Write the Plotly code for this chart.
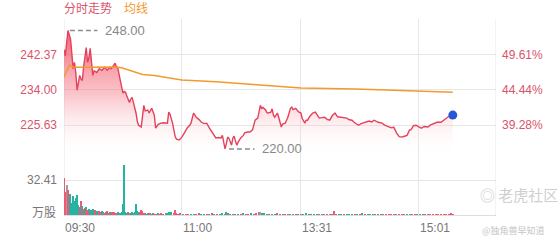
import plotly.graph_objects as go

# ---- data (minute index from 09:30; HK session 330 minutes) ----
tick_idx = [0, 90, 181, 271]
tick_text = ["09:30", "11:00", "13:31", "15:01"]
session_len = 330

prev_close = 162.0
price_ticks = [225.63, 234.00, 242.37]
price_range = [217.26, 250.74]
vol_tick = 32.41

price_idx = [0, 1, 3, 4, 5, 6, 7, 8, 9, 10, 11, 12, 13, 14, 15, 16, 17, 18, 19, 20,
             21, 22, 23, 25, 27, 29, 31, 33, 35, 36, 38, 39, 40, 41, 43, 44, 45, 46, 47, 48,
             50, 51, 52, 53, 55, 56, 57, 59, 60, 61, 62, 64, 65, 67, 68, 69, 70, 72, 74, 76,
             79, 80, 81, 82, 83, 85, 86, 88, 90, 92, 94, 96, 97, 99, 100, 101, 103, 105, 107, 109,
             111, 113, 116, 118, 120, 121, 122, 123, 124, 125, 126, 127, 128, 129, 130, 131, 132, 133, 135, 137,
             138, 140, 142, 144, 146, 148, 149, 150, 151, 152, 154, 155, 156, 158, 159, 160, 161, 163, 164, 166,
             167, 169, 170, 171, 173, 174, 175, 177, 179, 181, 182, 184, 185, 186, 188, 190, 192, 194, 195, 197,
             199, 201, 203, 205, 207, 209, 211, 213, 216, 218, 220, 222, 225, 227, 230, 233, 235, 237, 240, 243,
             245, 248, 250, 252, 253, 254, 256, 258, 260, 262, 264, 265, 267, 269, 271, 273, 275, 278, 280, 283,
             285, 288, 290, 293, 295, 297]
price_val = [243.5, 242.0, 248.0, 247.2, 246.0, 242.5, 239.0, 240.5, 238.0, 233.9, 236.0, 237.4, 236.5, 236.2, 239.5, 242.5, 244.0, 240.5, 241.5, 243.8,
             240.0, 237.4, 238.5, 238.1, 239.0, 238.6, 239.3, 238.6, 239.3, 239.0, 239.8, 240.3, 239.5, 239.3, 236.2, 234.5, 233.2, 233.6, 233.4, 232.5,
             231.0, 231.8, 232.2, 231.0, 228.5, 226.5, 225.6, 225.2, 227.5, 230.3, 229.0, 229.2, 228.5, 229.6, 228.8, 228.0, 224.9, 225.8, 226.1, 226.2,
             226.1, 228.7, 228.2, 227.3, 226.0, 222.8, 222.3, 222.1, 222.8, 223.8, 224.9, 225.6, 226.1, 228.5, 228.0, 227.5, 227.0, 226.3, 226.0, 226.1,
             225.0, 224.0, 222.6, 222.7, 222.6, 223.2, 221.5, 220.0, 221.2, 222.8, 222.5, 221.8, 220.9, 222.6, 223.0, 221.8, 220.9, 221.6, 222.6, 223.2,
             223.8, 224.0, 224.0, 224.5, 226.8, 227.3, 228.7, 230.3, 229.6, 229.8, 229.2, 228.6, 228.5, 228.7, 229.5, 228.0, 227.5, 228.5, 227.5, 225.2,
             225.9, 226.1, 226.8, 227.5, 229.6, 229.9, 229.3, 229.6, 228.8, 228.5, 227.2, 226.1, 226.8, 226.8, 227.8, 228.5, 228.7, 227.8, 227.3, 227.4,
             227.5, 227.0, 226.8, 227.9, 228.5, 227.6, 227.5, 227.3, 227.3, 226.9, 226.8, 226.2, 225.6, 226.0, 226.3, 226.6, 226.4, 226.8, 226.3, 226.1,
             225.6, 225.2, 225.0, 225.1, 224.2, 223.8, 222.9, 222.8, 223.0, 223.2, 224.5, 224.5, 225.5, 225.6, 225.2, 224.9, 225.3, 225.2, 225.7, 226.1,
             226.3, 226.3, 226.8, 227.5, 227.8, 228.0]

avg_idx = [0, 2, 4, 6, 8, 15, 30, 40, 44, 50, 55, 60, 69, 85, 90, 116, 148, 181, 223, 269, 297]
avg_val = [237.0, 238.5, 239.8, 239.6, 239.3, 239.3, 239.3, 239.4, 239.2, 238.6, 238.0, 237.6, 237.4, 236.6, 236.3, 235.9, 235.1, 234.4, 234.2, 233.6, 233.4]

vol_idx = [0, 1, 2, 3, 4, 5, 6, 7, 8, 9, 10, 11, 12, 13, 14, 15, 16, 17, 18, 19,
           20, 21, 22, 23, 24, 25, 26, 27, 28, 29, 30, 31, 32, 33, 34, 35, 36, 37, 38, 39,
           40, 41, 42, 43, 44, 45, 46, 47, 48, 49, 50, 51, 52, 53, 54, 55, 56, 57, 58, 59,
           60, 61, 62, 63, 64, 65, 66, 67, 68, 69, 70, 72, 73, 74, 76, 78, 79, 80, 81, 82,
           84, 85, 86, 87, 89, 91, 93, 95, 97, 99, 101, 103, 105, 107, 109, 111, 113, 115, 117, 119,
           121, 123, 124, 125, 127, 129, 131, 133, 135, 137, 139, 141, 143, 145, 147, 149, 150, 151, 153, 155,
           157, 159, 161, 163, 165, 167, 169, 171, 173, 175, 177, 179, 181, 183, 185, 187, 189, 191, 193, 195,
           197, 199, 201, 203, 205, 206, 208, 210, 212, 214, 216, 218, 220, 222, 224, 226, 228, 230, 232, 234,
           236, 238, 240, 242, 244, 246, 248, 250, 252, 254, 256, 258, 260, 262, 264, 266, 268, 270, 272, 274,
           276, 278, 280, 282, 284, 286, 288, 290, 292, 294, 296, 297]
vol_val = [35, 22, 28, 24, 14, 20, 12, 18, 13, 16, 19, 10, 8, 13, 9, 6, 7, 8, 5, 6,
           4, 5, 6, 4, 5, 4, 3, 4, 3, 4, 3, 2, 3, 4, 2, 3, 2, 3, 3, 2,
           2, 3, 2, 2, 3, 11, 47, 3, 2, 3, 2, 2, 3, 2, 3, 11, 4, 3, 3, 5.5,
           4, 2, 2, 1.5, 2, 1.5, 2, 1.5, 2, 1.5, 1.5, 2, 1.5, 2, 1.5, 2, 2, 3, 2, 3.5,
           2, 5.5, 2, 1.5, 2, 1.5, 1.5, 1, 1.5, 1.5, 1, 2, 1.5, 1, 1.5, 1, 2, 1.5, 1, 1.5,
           2, 1.5, 3.5, 2, 1.5, 1.5, 1, 1.5, 1, 2, 1.5, 1, 2, 1.5, 2, 3, 3.5, 2, 2, 1.5,
           1, 1.5, 1, 2, 1.5, 1, 1.5, 1.5, 1, 1, 1.5, 1, 1.5, 1, 2, 1.5, 1, 1.5, 1, 1,
           1.5, 1, 1.5, 1, 1.5, 4.5, 1.5, 1, 1.5, 1, 1.5, 1, 1.5, 1, 1.5, 1, 2, 1, 1.5, 1,
           1.5, 1, 1.5, 1, 1, 1.5, 1, 1.5, 1, 1.5, 1, 1, 1.5, 1, 1.5, 1, 1, 1.5, 1, 1,
           1.5, 1, 1, 1.5, 1, 1.5, 1, 1.5, 1, 1.5, 2, 1.5]
vol_dir = ["r", "r", "n", "r", "r", "g", "g", "g", "g", "g", "g", "g", "r", "r", "g", "r", "r", "g", "r", "g",
           "r", "g", "g", "g", "r", "g", "g", "r", "r", "g", "g", "r", "r", "r", "g", "r", "g", "r", "r", "r",
           "r", "g", "g", "g", "g", "g", "g", "g", "r", "g", "r", "g", "g", "g", "g", "g", "g", "r", "g", "r",
           "r", "r", "r", "g", "g", "r", "r", "g", "g", "r", "r", "g", "r", "r", "g", "r", "g", "g", "g", "g",
           "r", "r", "r", "r", "r", "g", "r", "r", "g", "g", "r", "r", "g", "g", "r", "g", "r", "g", "r", "g",
           "g", "g", "g", "r", "g", "g", "r", "g", "r", "g", "r", "r", "g", "r", "r", "r", "n", "g", "g", "r",
           "g", "g", "g", "r", "r", "g", "r", "r", "g", "r", "r", "g", "r", "g", "g", "g", "r", "g", "g", "r",
           "g", "r", "r", "g", "r", "r", "r", "g", "g", "r", "g", "g", "g", "r", "g", "r", "g", "r", "g", "g",
           "g", "r", "g", "r", "g", "r", "r", "r", "r", "g", "r", "r", "r", "g", "g", "r", "r", "g", "r", "g",
           "r", "r", "r", "r", "r", "r", "r", "r", "r", "r", "r", "r"]

# ---- styles ----
RED = "#e5415c"
ORANGE = "#f39a2f"
GRID = "#e6e6e6"
LABEL_RED = "#d9546b"
GRAY_TXT = "#777777"
FONT = "Liberation Sans, Arial, Noto Sans CJK SC, sans-serif"
dir_color = {"r": "#ea5b72", "g": "#27b3a3", "n": "#9e9e9e"}

fig = go.Figure()

# price area + line
fig.add_trace(go.Scatter(
    x=price_idx, y=price_val, mode="lines",
    line=dict(color=RED, width=1.4),
    fill="tozeroy",
    fillgradient=dict(type="vertical", start=price_range[0] + 1.0, stop=max(price_val),
                      colorscale=[[0, "rgba(255,255,255,0)"], [0.5, "rgba(245,135,148,0.5)"],
                                  [1, "rgba(240,70,90,0.85)"]]),
    xaxis="x", yaxis="y", hoverinfo="skip", showlegend=False))

# average line
fig.add_trace(go.Scatter(
    x=avg_idx, y=avg_val, mode="lines", line=dict(color=ORANGE, width=1.5),
    xaxis="x", yaxis="y", hoverinfo="skip", showlegend=False))

# last point marker
fig.add_trace(go.Scatter(
    x=[price_idx[-1]], y=[price_val[-1]], mode="markers",
    marker=dict(color="#2657d6", size=9), xaxis="x", yaxis="y",
    hoverinfo="skip", showlegend=False, cliponaxis=False))

# volume bars
fig.add_trace(go.Bar(
    x=vol_idx, y=vol_val, marker=dict(color=[dir_color[d] for d in vol_dir], line=dict(width=0)),
    width=0.9, xaxis="x2", yaxis="y3", hoverinfo="skip", showlegend=False))

# right percent axis dummy trace
fig.add_trace(go.Scatter(x=[None], y=[None], xaxis="x", yaxis="y2", showlegend=False))

pct_text = ["%.2f%%" % ((v / prev_close - 1) * 100) for v in price_ticks]
price_text = ["%.2f" % v for v in price_ticks]

vol_top = vol_tick * 54.5 / 35.0

xaxis_common = dict(range=[0, session_len], tickvals=tick_idx + [session_len], showticklabels=False,
                    showgrid=True, gridcolor=GRID, gridwidth=1, zeroline=False, ticks="",
                    fixedrange=True)

fig.update_layout(
    width=560, height=240,
    margin=dict(l=64, r=64, t=19, b=25),
    paper_bgcolor="white", plot_bgcolor="white",
    font=dict(family=FONT, size=12, color=GRAY_TXT),
    bargap=0,
    xaxis=dict(domain=[0, 1], anchor="y", **xaxis_common),
    xaxis2=dict(domain=[0, 1], anchor="y3", matches="x", **xaxis_common,
                showline=True, linecolor="#dddddd", linewidth=1),
    yaxis=dict(domain=[0.278, 1], range=price_range, tickvals=price_ticks, ticktext=price_text,
               tickfont=dict(color=LABEL_RED, size=12, family=FONT), showgrid=True,
               gridcolor=GRID, zeroline=False, ticks="", ticklabelstandoff=6),
    yaxis2=dict(domain=[0.278, 1], range=price_range, overlaying="y", side="right", anchor="x",
                tickvals=price_ticks, ticktext=pct_text,
                tickfont=dict(color=LABEL_RED, size=12, family=FONT), showgrid=False,
                zeroline=False, ticks="", ticklabelstandoff=5),
    yaxis3=dict(domain=[0, 0.278], range=[0, vol_top], tickvals=[vol_tick], ticktext=["%.2f" % vol_tick],
                tickfont=dict(color=GRAY_TXT, size=12, family=FONT), showgrid=True, gridcolor=GRID,
                zeroline=False, ticks="", anchor="x2", ticklabelstandoff=6),
)

# vertical border lines (left and right frame)
for xv in [0, session_len]:
    fig.add_shape(type="line", xref="x", yref="paper", x0=xv, x1=xv, y0=0, y1=1,
                  line=dict(color=GRID, width=1), layer="below")

# max / min markers
i_max = price_val.index(max(price_val))
i_min = price_val.index(min(price_val))
for i, yv in [(i_max, max(price_val)), (i_min, min(price_val))]:
    xi = price_idx[i]
    off = 1.5 if i == i_max else 3
    fig.add_shape(type="line", xref="x", yref="y", x0=xi + off, x1=xi + 22.5, y0=yv, y1=yv,
                  line=dict(color="#8c8c8c", width=1.5, dash="5px,3px"))
    fig.add_annotation(x=xi + 27, y=yv, xref="x", yref="y", text="%.2f" % yv, showarrow=False,
                       xanchor="left", yanchor="middle", font=dict(color="#888888", size=13, family=FONT))

# x tick labels (left aligned at grid lines)
for xv, t in zip(tick_idx, tick_text):
    fig.add_annotation(x=xv, y=-0.02, xref="x2", yref="paper", text=t, showarrow=False,
                       xanchor="left", yanchor="top", xshift=-1,
                       font=dict(color=GRAY_TXT, size=12, family=FONT))

# volume unit label
fig.add_annotation(x=0, y=3.7, xref="paper", yref="y3", text="万股", showarrow=False,
                   xanchor="right", yanchor="middle", xshift=-6,
                   font=dict(color=GRAY_TXT, size=12, family="Noto Sans CJK SC"))

# legend texts
fig.add_annotation(x=0, y=1, xref="paper", yref="paper", text="分时走势", showarrow=False,
                   xanchor="left", yanchor="bottom", xshift=-2, yshift=1,
                   font=dict(color=LABEL_RED, size=12, family="Noto Sans CJK SC"))
fig.add_annotation(x=0, y=1, xref="paper", yref="paper", text="均线", showarrow=False,
                   xanchor="left", yanchor="bottom", xshift=58, yshift=1,
                   font=dict(color=ORANGE, size=12, family="Noto Sans CJK SC"))

# watermark
fig.add_annotation(x=1, y=0.04, xref="paper", yref="paper", text="◎ 老虎社区", showarrow=False,
                   xanchor="left", yanchor="bottom", xshift=-18,
                   font=dict(color="#cfcfcf", size=15, family="Noto Sans CJK SC"))
fig.add_annotation(x=1, y=-0.08, xref="paper", yref="paper", text="@独角兽早知道", showarrow=False,
                   xanchor="left", yanchor="middle", xshift=-16,
                   font=dict(color="#c4c4c4", size=9, family="Noto Sans CJK SC"))

fig.write_html("out.html")
